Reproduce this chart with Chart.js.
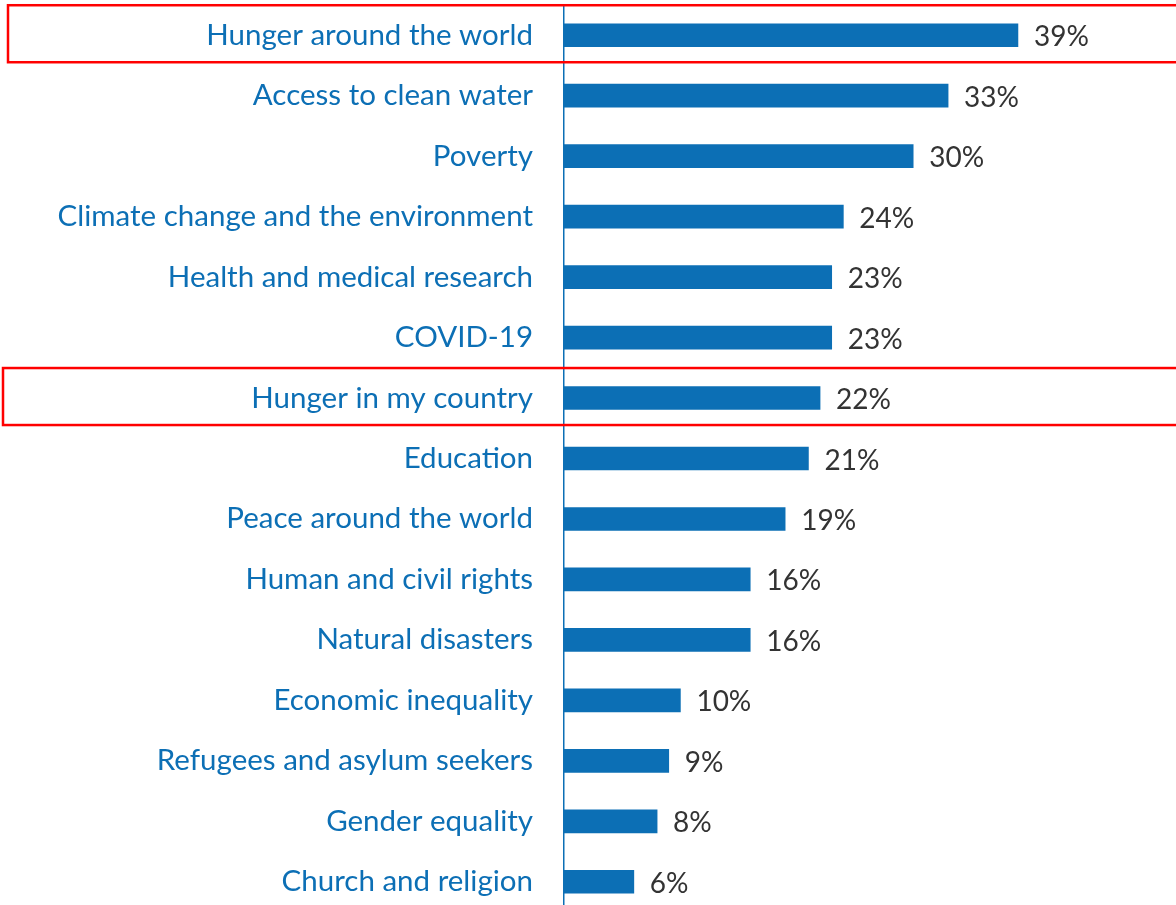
<!DOCTYPE html>
<html>
<head>
<meta charset="utf-8">
<script src="https://cdn.jsdelivr.net/npm/chart.js@4.4.1/dist/chart.umd.min.js"></script>
<style>
  html, body { margin: 0; padding: 0; background: #ffffff; overflow: hidden; }
  #wrap { width: 1176px; height: 905px; overflow: hidden; position: relative; }
  #wrap canvas { display: block; }
</style>
</head>
<body>
<div id="wrap"><canvas id="c" width="1176" height="912"></canvas></div>
<script>
const categories = [
  'Hunger around the world',
  'Access to clean water',
  'Poverty',
  'Climate change and the environment',
  'Health and medical research',
  'COVID-19',
  'Hunger in my country',
  'Education',
  'Peace around the world',
  'Human and civil rights',
  'Natural disasters',
  'Economic inequality',
  'Refugees and asylum seekers',
  'Gender equality',
  'Church and religion'
];
const values = [39, 33, 30, 24, 23, 23, 22, 21, 19, 16, 16, 10, 9, 8, 6];
const highlighted = ['Hunger around the world', 'Hunger in my country'];

const FONT = 'Lato, "Open Sans", sans-serif';
const BLUE = '#0C6FB5';

const valueLabels = {
  id: 'valueLabels',
  afterDatasetsDraw(chart) {
    const ctx = chart.ctx;
    const xs = chart.scales.x, ys = chart.scales.y;
    ctx.save();
    ctx.font = '28px ' + FONT;
    ctx.fillStyle = '#333333';
    ctx.textAlign = 'left';
    ctx.textBaseline = 'middle';
    values.forEach((v, i) => {
      ctx.fillText(v + '%', xs.getPixelForValue(v) + 16, ys.getPixelForValue(i) + 2);
    });
    ctx.restore();
  }
};

const highlightBoxes = {
  id: 'highlightBoxes',
  afterDraw(chart) {
    const ctx = chart.ctx;
    const ys = chart.scales.y;
    ctx.save();
    ctx.strokeStyle = '#FF0000';
    ctx.lineWidth = 2.5;
    highlighted.forEach((name, k) => {
      const i = categories.indexOf(name);
      const yc = ys.getPixelForValue(i);
      const left = k === 0 ? 8 : 3;
      ctx.strokeRect(left, yc - 30, 1176 - left + 10, 57);
    });
    ctx.restore();
  }
};

new Chart(document.getElementById('c'), {
  type: 'bar',
  data: {
    labels: categories,
    datasets: [{
      data: values,
      backgroundColor: BLUE,
      borderWidth: 0,
      barThickness: 23
    }]
  },
  options: {
    indexAxis: 'y',
    responsive: false,
    animation: false,
    layout: { padding: { top: 5, left: 0, right: 0, bottom: 0 } },
    plugins: { legend: { display: false }, tooltip: { enabled: false } },
    scales: {
      x: {
        display: false,
        min: 0,
        max: 52.58
      },
      y: {
        afterFit(scale) {
          scale.width = 564;
          scale.paddingTop = 0;
          scale.paddingBottom = 0;
        },
        grid: { display: false, drawTicks: false },
        border: { display: true, color: BLUE, width: 1.5 },
        ticks: {
          color: BLUE,
          padding: 31,
          font: { family: FONT, size: 29.5 },
          autoSkip: false
        }
      }
    }
  },
  plugins: [valueLabels, highlightBoxes]
});
</script>
</body>
</html>
